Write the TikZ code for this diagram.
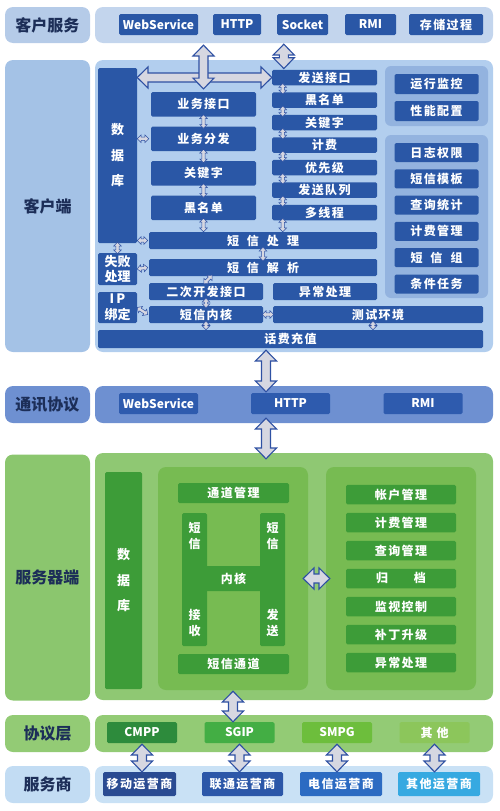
\documentclass[tikz,border=0pt]{standalone}
\usepackage{fontspec}
\setmainfont{Noto Sans CJK SC}
\newfontfamily\wide[LetterSpace=12]{Noto Sans CJK SC}
\usetikzlibrary{calc, positioning}

\definecolor{lbltext}{HTML}{1C2E58}
\definecolor{cslbl}{HTML}{B5CBE8}
\definecolor{cspanel}{HTML}{C3D5ED}
\definecolor{cdlbl}{HTML}{A4C2E6}
\definecolor{cdpanel}{HTML}{B2CEEE}
\definecolor{grpcol}{HTML}{93B3DF}
\definecolor{itemblue}{HTML}{2A57A6}
\definecolor{txcol}{HTML}{6E90D1}
\definecolor{txitem}{HTML}{2E5BAE}
\definecolor{svlbl}{HTML}{8BC66E}
\definecolor{svpanel}{HTML}{8FC873}
\definecolor{svinner}{HTML}{77BB52}
\definecolor{svitem}{HTML}{3D9C38}
\definecolor{xycol}{HTML}{93CB75}
\definecolor{xya}{HTML}{2D8B3C}
\definecolor{xyb}{HTML}{43AE44}
\definecolor{xyc}{HTML}{6DBE3C}
\definecolor{xyd}{HTML}{8CC65B}
\definecolor{fwlbl}{HTML}{C2DCF3}
\definecolor{fwpanel}{HTML}{C9E1F5}
\definecolor{yya}{HTML}{2A4B92}
\definecolor{yyb}{HTML}{2C57A8}
\definecolor{yyc}{HTML}{2C6BC2}
\definecolor{yyd}{HTML}{36A9E1}
\definecolor{linkgray}{HTML}{D6D7E1}
\definecolor{linkblue}{HTML}{2F51A3}

\newcommand{\ksp}{\hspace{8pt}}
% double arrow between two points, optional half shaft width
\newcommand{\dlink}[3][4.5pt]{%
	\path #2 coordinate (lnk1) #3 coordinate (lnk2);
	\path ($(lnk1)!2.4*#1!(lnk2)$) coordinate (lnkb1) ($(lnk2)!2.4*#1!(lnk1)$) coordinate (lnkb2);
	\filldraw[link, line width=0.2*#1+0.2pt] (lnk1) -- ($(lnkb1)!2.35*#1!90:(lnk2)$) -- ($(lnkb1)!#1!90:(lnk2)$)
		-- ($(lnkb2)!#1!-90:(lnk1)$) -- ($(lnkb2)!2.35*#1!-90:(lnk1)$) -- (lnk2)
		-- ($(lnkb2)!2.35*#1!90:(lnk1)$) -- ($(lnkb2)!#1!90:(lnk1)$)
		-- ($(lnkb1)!#1!-90:(lnk2)$) -- ($(lnkb1)!2.35*#1!-90:(lnk2)$) -- cycle;}

\begin{document}
\begin{tikzpicture}[x=1pt, y=-1pt]
	\tikzstyle{lbl} = [rounded corners=8pt, inner sep=0pt, text=lbltext, font={\bfseries\fontsize{16}{18}\selectfont}]
	\tikzstyle{panel} = [rounded corners=8pt, inner sep=0pt]
	\tikzstyle{group} = [rounded corners=6pt, inner sep=0pt, fill=grpcol]
	\tikzstyle{sub} = [rounded corners=8pt, inner sep=0pt, fill=svinner]
	\tikzstyle{item} = [fill=itemblue, text=white, rounded corners=1.5pt, inner sep=0pt, font={\wide\bfseries\fontsize{12}{14}\selectfont}]
	\tikzstyle{itemen} = [item, font={\bfseries\fontsize{12}{14}\selectfont}]
	\tikzstyle{gitem} = [item, fill=svitem]
	\tikzstyle{column} = [align=center, font={\bfseries\fontsize{13}{25.5}\selectfont}]
	\tikzstyle{htext} = [text=white, inner sep=0pt, align=center, font={\bfseries\fontsize{12}{16.5}\selectfont}]
	\tikzstyle{link} = [fill=linkgray, draw=linkblue]
	\useasboundingbox (0,0) rectangle (500,811);

	% client services
	\node (lcs) [lbl, fill=cslbl, minimum width=85, minimum height=36] at (47.5,25) {客户服务};
	\node (pcs) [panel, fill=cspanel, minimum width=398, minimum height=36] at (294,25) {};
	\foreach \t/\x/\w [count=\i] in {WebService/158.5/79, HTTP/237/48, Socket/302.5/51, RMI/370.5/51}
		\node (c\i) [itemen, minimum width=\w, minimum height=21] at (\x,24.5) {\t};
	\node (c5) [item, minimum width=74, minimum height=21] at (446,24.5) {存储过程};

	% client side
	\node (lcd) [lbl, fill=cdlbl, minimum width=85, minimum height=292] at (47.5,206) {客户端};
	\node (pcd) [panel, fill=cdpanel, minimum width=398, minimum height=292] at (294,206) {};
	\node (g1) [group, minimum width=103, minimum height=60] at (436.5,96) {};
	\node (g2) [group, minimum width=103, minimum height=163] at (436.5,216.5) {};
	\node (db1) [item, column, minimum width=39, minimum height=175] at (117.5,155.5) {数\\据\\库};
	\foreach \t [count=\i] in {业务接口,业务分发,关键字,黑名单}
		\node (yw\i) [item, minimum width=105, minimum height=24.5] at (203.5,{69.8+34.5*\i}) {\t};
	\foreach \t [count=\i] in {发送接口,黑名单,关键字,计费,优先级,发送队列,多线程}
		\node (s\i) [item, minimum width=105, minimum height=15.5] at (324.5,{55+22.5*\i}) {\t};
	\node (m1) [item, minimum width=84, minimum height=20] at (436.5,84) {运行监控};
	\node (m2) [item, minimum width=84, minimum height=20] at (436.5,111) {性能配置};
	\foreach \t [count=\i] in {日志权限,短信模板,查询统计,计费管理,短\ksp 信\ksp 组,条件任务}
		\node (r\i) [item, minimum width=84, minimum height=19] at (436.5,{126.2+26.3*\i}) {\t};
	\node (cl) [item, minimum width=228, minimum height=17] at (263,240.5) {短\ksp 信\ksp 处\ksp 理};
	\node (jx) [item, minimum width=228, minimum height=17] at (263,267.5) {短\ksp 信\ksp 解\ksp 析};
	\node (sb) [item, column, font={\bfseries\fontsize{13}{15.5}\selectfont}, minimum width=39, minimum height=32] at (117.5,269) {失败\\处理};
	\node (ip) [item, column, font={\bfseries\fontsize{13}{16}\selectfont}, minimum width=39, minimum height=31] at (117.5,307.5) {I\,P\\绑定};
	\node (ec) [item, minimum width=114, minimum height=17] at (206,291.5) {二次开发接口};
	\node (yc) [item, minimum width=104, minimum height=17] at (325,291.5) {异常处理};
	\node (nh) [item, minimum width=114, minimum height=17] at (206,314.5) {短信内核};
	\node (cs) [item, minimum width=210, minimum height=17] at (378,314.5) {测试环境};
	\node (hf) [item, minimum width=385, minimum height=18] at (290.5,339) {话费充值};

	\dlink{(db1.east |- s1.west)}{(s1.west)};
	\dlink{([yshift=-2pt]yw1.north |- pcs.south)}{([yshift=3pt]yw1.north)};
	\coordinate (sk) at ([xshift=12pt]s1.north west);
	\dlink{([yshift=-1pt]sk |- pcs.south)}{([yshift=1pt]sk)};
	\foreach \a/\b in {yw1/yw2, yw2/yw3, yw3/yw4}
		\dlink[1.6pt]{([yshift=2pt]\a.south)}{([yshift=-2pt]\b.north)};
	\dlink[1.6pt]{([yshift=2pt]yw4.south)}{(yw4.south |- cl.north)};
	\foreach \a/\b in {s1/s2, s2/s3, s3/s4, s4/s5, s5/s6, s6/s7}
		\dlink[1.6pt]{([xshift=11pt,yshift=2pt]\a.south west)}{([xshift=11pt,yshift=-2pt]\b.north west)};
	\coordinate (s7b) at ([xshift=11pt]s7.south west);
	\dlink[1.6pt]{([yshift=2pt]s7b)}{(s7b |- cl.north)};
	\dlink[1.6pt]{(db1.east |- yw2.west)}{([xshift=-2pt]yw2.west)};
	\dlink[1.6pt]{(db1.east |- cl.west)}{([xshift=-1pt]cl.west)};
	\dlink[1.6pt]{(sb.east)}{([xshift=-1pt]jx.west)};
	\dlink[1.6pt]{(ip.east)}{([xshift=-1pt]nh.west)};
	\dlink[1.6pt]{([xshift=-1pt]nh.east)}{([xshift=1pt]cs.west)};
	\dlink[1.6pt]{([yshift=1pt]db1.south)}{([yshift=-1pt]sb.north)};
	\dlink[1.6pt]{([yshift=2pt]cl.south)}{([yshift=-2pt]jx.north)};
	\dlink[1.6pt]{([yshift=2pt]ec.south)}{([yshift=-2pt]nh.north)};
	\dlink[1.6pt]{([yshift=2pt]nh.south)}{(nh.south |- hf.north)};
	\coordinate (cb) at ([xshift=-5pt]cs.south);
	\dlink[1.6pt]{([yshift=2pt]cb)}{(cb |- hf.north)};
	\dlink[1.6pt]{([xshift=-51pt,yshift=1pt]jx.south)}{([xshift=-2pt,yshift=-1pt]ec.north)};

	% transport
	\node (ltx) [lbl, fill=txcol, minimum width=85, minimum height=37] at (47.5,404.5) {通讯协议};
	\node (ptx) [panel, fill=txcol, minimum width=398, minimum height=37] at (294,404.5) {};
	\foreach \t/\x [count=\i] in {WebService/158.5, HTTP/290.5, RMI/423}
		\node (t\i) [itemen, fill=txitem, minimum width=79, minimum height=21] at (\x,403.5) {\t};
	\coordinate (hx) at ([xshift=-24.5pt]hf.south);
	\dlink{([yshift=-2pt]hx)}{([yshift=1pt]hx |- t2.north)};

	% server side
	\node (lsv) [lbl, fill=svlbl, minimum width=85, minimum height=246] at (47.5,577.5) {服务器端};
	\node (psv) [panel, fill=svpanel, minimum width=398, minimum height=247] at (294,576.5) {};
	\node (db2) [gitem, column, minimum width=37, minimum height=217] at (123.5,580.5) {数\\据\\库};
	\node (im) [sub, minimum width=150, minimum height=223] at (233,578.5) {};
	\node (ir) [sub, minimum width=150, minimum height=223] at (401,578.5) {};
	\node (td) [gitem, minimum width=111, minimum height=20] at (233.5,493) {通道管理};
	\node (hl) [gitem, minimum width=25, minimum height=133] at (194.5,579.5) {};
	\node (hr) [gitem, minimum width=25, minimum height=133] at (272.5,579.5) {};
	\node (hc) [gitem, minimum width=56, minimum height=25] at (233.5,578.5) {内核};
	\node [htext, below=9pt of hl.north] {短\\信};
	\node [htext, above=9pt of hl.south] {接\\收};
	\node [htext, below=9pt of hr.north] {短\\信};
	\node [htext, above=9pt of hr.south] {发\\送};
	\node (sd) [gitem, minimum width=111, minimum height=20] at (233.5,664) {短信通道};
	\foreach \t [count=\i] in {帐户管理,计费管理,查询管理,归\hspace{26pt}档,监视控制,补丁升级,异常处理}
		\node (v\i) [gitem, minimum width=110, minimum height=19.5] at (401,{466.5+28*\i}) {\t};
	\dlink{([yshift=-4pt]hx |- t2.south)}{([yshift=-6pt]hx |- psv.north)};
	\dlink{([xshift=-5pt]im.east)}{([xshift=4pt]ir.west)};

	% protocol layer
	\node (lxy) [lbl, fill=xycol, minimum width=85, minimum height=37] at (47.5,733.5) {协议层};
	\node (pxy) [panel, fill=xycol, minimum width=398, minimum height=37] at (294,733.5) {};
	\foreach \t/\c [count=\i] in {CMPP/xya, SGIP/xyb, SMPG/xyc, {其\hspace{4pt}他}/xyd}
		\node (xy\i) [itemen, fill=\c, minimum width=70, minimum height=21] at ({44.5+97.5*\i},732.5) {\t};
	\dlink{([yshift=-1pt]im.south)}{(im.south |- xy2.north)};

	% operators
	\node (lfw) [lbl, fill=fwlbl, minimum width=85, minimum height=37] at (47.5,784.5) {服务商};
	\node (pfw) [panel, fill=fwpanel, minimum width=398, minimum height=37] at (294,784.5) {};
	\foreach \t/\c/\x/\w [count=\i] in {移动运营商/yya/139.5/73, 联通运营商/yyb/242.5/81, 电信运营商/yyc/341/82, 其他运营商/yyd/439/82}
		\node (yy\i) [item, fill=\c, minimum width=\w, minimum height=24] at (\x,784) {\t};
	\foreach \i in {1,...,4}
		\dlink{([yshift=-1pt]xy\i.south)}{(xy\i.south |- yy\i.north)};
\end{tikzpicture}
\end{document}
